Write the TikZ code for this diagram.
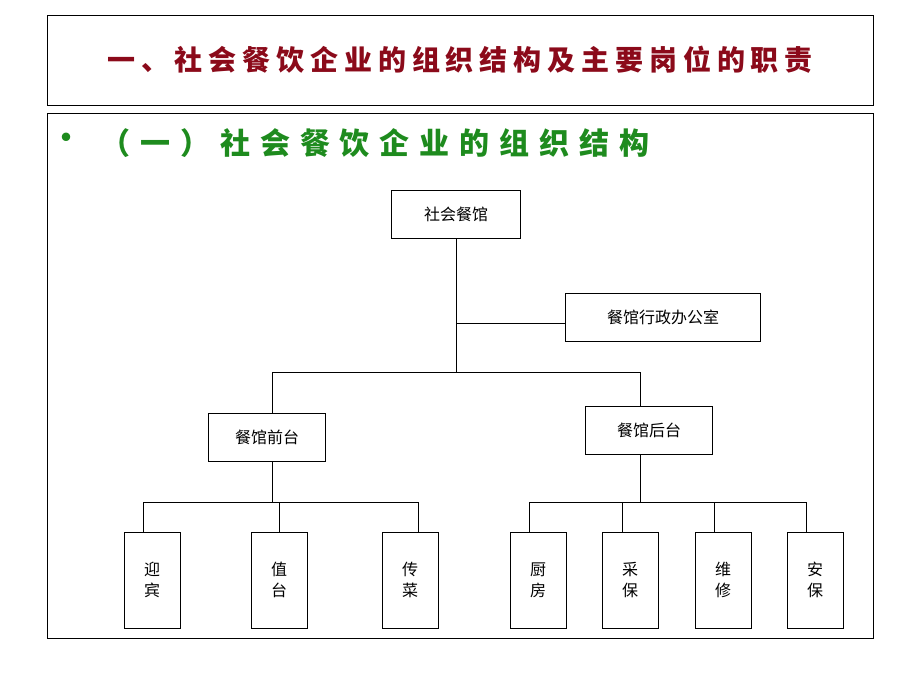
\documentclass[tikz,border=0pt]{standalone}
\usepackage{fontspec}
\setmainfont{Noto Sans CJK SC}
\begin{document}
\begin{tikzpicture}[x=1pt,y=-1pt,
  box/.style={draw, line width=0.8pt, fill=white, minimum width=#1, minimum height=48pt, inner sep=0pt, font=\fontsize{16}{18}\selectfont},
  leaf/.style={draw, line width=0.8pt, minimum width=56pt, minimum height=96pt, inner sep=0pt, align=center, font=\fontsize{16}{21}\selectfont},
  link/.style={line width=0.8pt}]
\useasboundingbox (0,0) rectangle (920,690);
\definecolor{titlered}{HTML}{8B0A1A}
\definecolor{subgreen}{HTML}{1E8B1E}
\draw[line width=0.6pt] (47,15) rectangle (873,105);
\draw[line width=0.6pt] (47,113) rectangle (873,638);
\node[text=titlered, font=\fontsize{28}{30}\selectfont\bfseries\addfontfeature{LetterSpace=21}] (title) at (460,60) {一、社会餐饮企业的组织结构及主要岗位的职责};
\node[text=subgreen, font=\fontsize{40}{40}\selectfont] (dot) at (66,143) {•};
\node[text=subgreen, font=\fontsize{30}{32}\selectfont\bfseries\addfontfeature{LetterSpace=33}, anchor=west] (sub) at (97,143) {（一）社会餐饮企业的组织结构};
% upper levels
\node[box=129pt] (top) at (456,214) {社会餐馆};
\node[box=195pt] (office) at (663,317) {餐馆行政办公室};
\node[box=117pt] (front) at (267,437) {餐馆前台};
\node[box=127pt] (back) at (649,430) {餐馆后台};
% leaves
\foreach \name/\x/\txt in {ying/152/迎\\宾, zhi/279/值\\台, chuan/410/传\\菜,
    chu/538/厨\\房, cai/630/采\\保, wei/723/维\\修, an/815/安\\保}
  \node[leaf] (\name) at (\x,580) {\txt};
\coordinate (split) at (456,372);
\coordinate (fsplit) at (272,502);
\coordinate (bsplit) at (640,502);
% connectors
\draw[link] (top.south) -- (split);
\draw[link] (456,323) -- (office.west |- 456,323);
\draw[link] (split) -| (272,413);
\draw[link] (split) -| (640,406);
\draw[link] (272,461) -- (fsplit);
\draw[link] (640,454) -- (bsplit);
\foreach \n/\dx in {ying/-9,zhi/0,chuan/8}
  \draw[link] (fsplit) -| ([xshift=\dx]\n.north);
\foreach \n/\dx in {chu/-9,cai/-8,wei/-9,an/-9}
  \draw[link] (bsplit) -| ([xshift=\dx]\n.north);
\end{tikzpicture}
\end{document}
